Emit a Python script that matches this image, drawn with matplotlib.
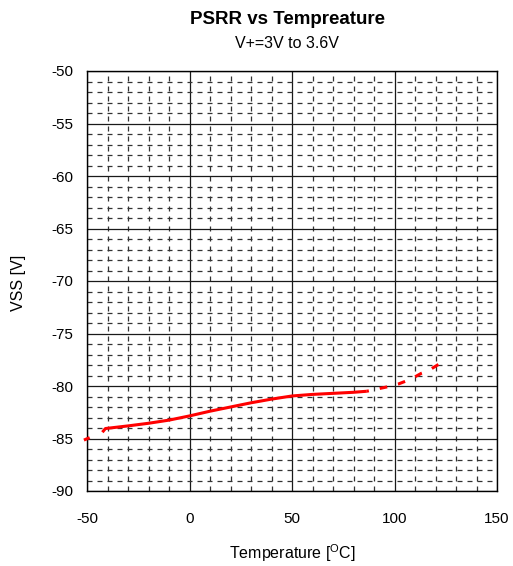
import matplotlib
matplotlib.use("Agg")
import matplotlib.pyplot as plt
from matplotlib.ticker import MultipleLocator

plt.rcParams['font.family'] = ['Liberation Sans', 'DejaVu Sans']
plt.rcParams['lines.scale_dashes'] = False
plt.rcParams['axes.unicode_minus'] = False

# Data
temp_meas = [-42.5, -41, -30, -20, -10, 0, 10, 20, 30, 40, 50, 60, 70, 80, 86.5]
vss_meas = [-84.4, -84.05, -83.8, -83.55, -83.25, -82.85, -82.4, -82.0, -81.6,
            -81.25, -80.95, -80.8, -80.7, -80.6, -80.5]

temp_ext_low = [-51.5, -42.5]
vss_ext_low = [-85.15, -84.4]

temp_ext_high = [86.5, 96, 102, 108, 113, 116, 121, 123]
vss_ext_high = [-80.5, -80.1, -79.8, -79.35, -78.8, -78.6, -78.0, -77.8]

x_ticks = [-50, 0, 50, 100, 150]
y_ticks = [-90, -85, -80, -75, -70, -65, -60, -55, -50]

fig = plt.figure(figsize=(5.13, 5.66), dpi=100)
ax = fig.add_axes([87/513, 1-491/566, 410/513, 420/566])

ax.set_xlim(-50, 150)
ax.set_ylim(-90, -50)
ax.set_xticks(x_ticks)
ax.set_yticks(y_ticks)
ax.xaxis.set_minor_locator(MultipleLocator(10))
ax.yaxis.set_minor_locator(MultipleLocator(1))

ax.grid(which='major', color='#1a1a1a', linewidth=0.9, linestyle='-')
ax.grid(which='minor', color='#333333', linewidth=0.9, linestyle=(0, (3.6, 3.6)))
ax.set_axisbelow(True)

ax.tick_params(which='both', length=0)
ax.tick_params(axis='x', pad=15, labelsize=11)
ax.tick_params(axis='y', pad=10, labelsize=11)
for s in ax.spines.values():
    s.set_linewidth(1.0)
    s.set_color('black')

ax.plot(temp_meas, vss_meas, color='red', linewidth=2.2, solid_capstyle='butt', zorder=5)
ax.plot(temp_ext_low, vss_ext_low, color='red', linewidth=2.2,
        linestyle=(0, (4.5, 20)), clip_on=False, zorder=5)
ax.plot(temp_ext_high, vss_ext_high, color='red', linewidth=2.2,
        linestyle=(-9.5, (5.5, 8)), zorder=5)

fig.text(288/513, 1-20/566, 'PSRR vs Tempreature', ha='center', va='center',
         fontsize=13.5, fontweight='bold')
fig.text(287/513, 1-43/566, 'V+=3V to 3.6V', ha='center', va='center', fontsize=11.5)
fig.text(292/513, 1-553/566, r'Temperature [$^\mathregular{O}$C]', ha='center', va='center',
         fontsize=11.5)
fig.text(18/513, 1-283/566, 'VSS [V]', ha='center', va='center', rotation=90, fontsize=11.5)

fig.savefig('out.png', dpi=100)
